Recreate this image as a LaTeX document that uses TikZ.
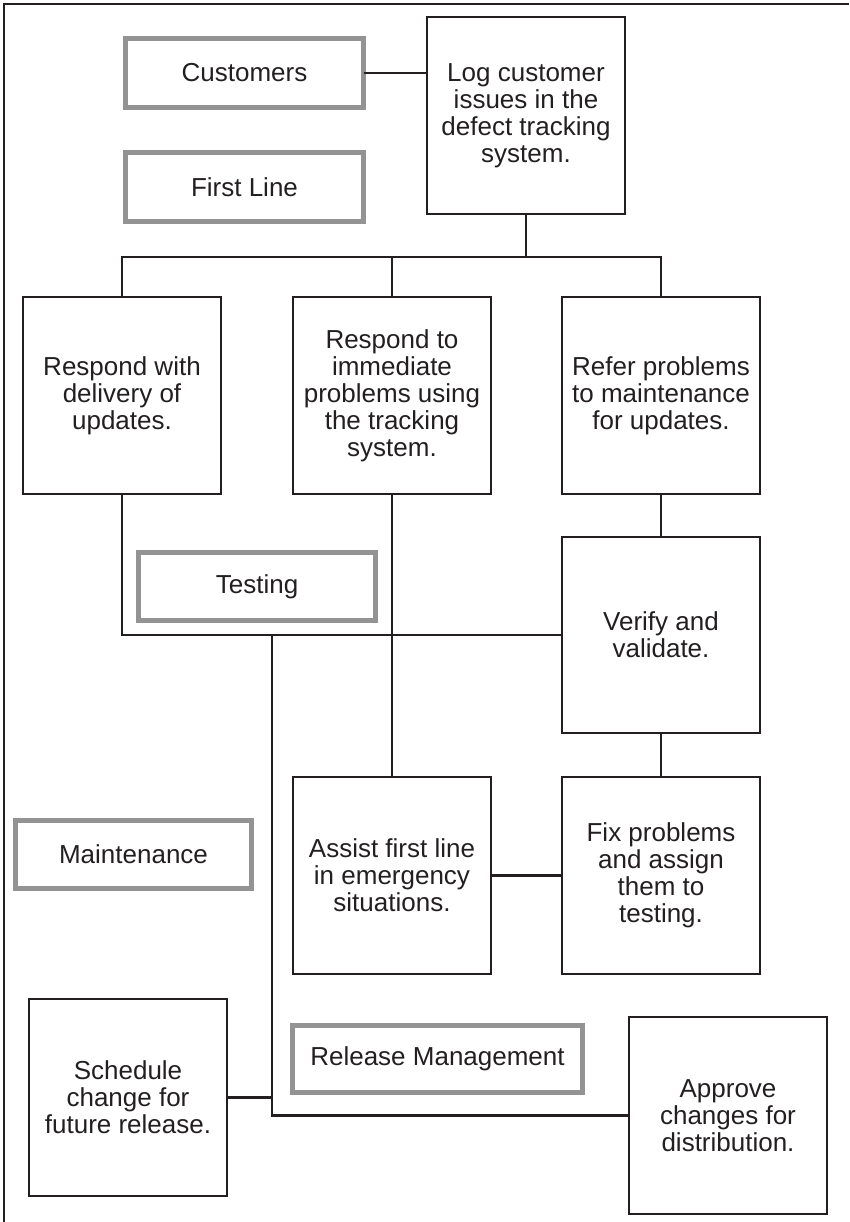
\documentclass[tikz,border=0pt]{standalone}
\usepackage{fontspec}
\setmainfont{Liberation Sans}
\definecolor{ink}{HTML}{231F20}
\definecolor{grayline}{HTML}{939393}
\begin{document}
\begin{tikzpicture}[x=1pt,y=-1pt,
  every node/.style={font=\fontsize{26}{27}\selectfont, text=ink, inner sep=0pt, outer sep=0pt, align=center},
  blk/.style={draw=ink, line width=2.4pt, minimum width=198pt, minimum height=197pt},
  grp/.style={draw=grayline, line width=5pt, minimum height=69pt},
  conn/.style={draw=ink, line width=2.4pt}]
\useasboundingbox (0,0) rectangle (849,1222);
\draw[ink, line width=1.5pt] (4,1222) -- (4,4) -- (849,4);

\node[grp, minimum width=238pt] (cust) at (244.5,73) {Customers};
\node[grp, minimum width=238pt] (first) at (244.5,187) {First Line};
\node[blk] (log) at (526,115.5) {Log customer\\issues in the\\defect tracking\\system.};

\node[blk] (r1) at (122,395.5) {Respond with\\delivery of\\updates.};
\node[blk] (r2) at (392,395.5) {Respond to\\immediate\\problems using\\the tracking\\system.};
\node[blk] (r3) at (661,395.5) {Refer problems\\to maintenance\\for updates.};

\node[grp, minimum width=237pt, minimum height=68pt] (test) at (257,586.5) {Testing};
\node[blk, minimum height=196pt] (verify) at (661,635) {Verify and\\validate.};

\node[blk] (assist) at (392,875.5) {Assist first line\\in emergency\\situations.};
\node[blk] (fix) at (661,875.5) {Fix problems\\and assign\\them to\\testing.};
\node[grp, minimum width=236pt, minimum height=68pt] (maint) at (133.5,854.5) {Maintenance};

\node[blk] (sched) at (128,1097.5) {Schedule\\change for\\future release.};
\node[grp, minimum width=290pt, minimum height=67pt] (rel) at (437.5,1059) {Release Management};
\node[blk] (appr) at (728,1115.5) {Approve\\changes for\\distribution.};

\coordinate (bus) at (0,257);
\coordinate (j1) at (272,634);

\path[conn] (cust.east) -- (cust.east -| log.west);
\path[conn] (log.south) -- (log.south |- bus);
\path[conn] (r1.north) -- (r1.north |- bus) -| (r3.north);
\path[conn] (r2.north) -- (r2.north |- bus);
\path[conn] (r3.south) -- (verify.north);
\path[conn] (verify.south) -- (fix.north);
\path[conn] (r1.south) |- (verify.west);
\path[conn] (r2.south) -- (assist.north);
\path[conn] (assist.east) -- (fix.west);
\path[conn] (j1) |- (appr.west);
\path[conn] (sched.east) -- (sched.east -| j1);
\end{tikzpicture}
\end{document}
